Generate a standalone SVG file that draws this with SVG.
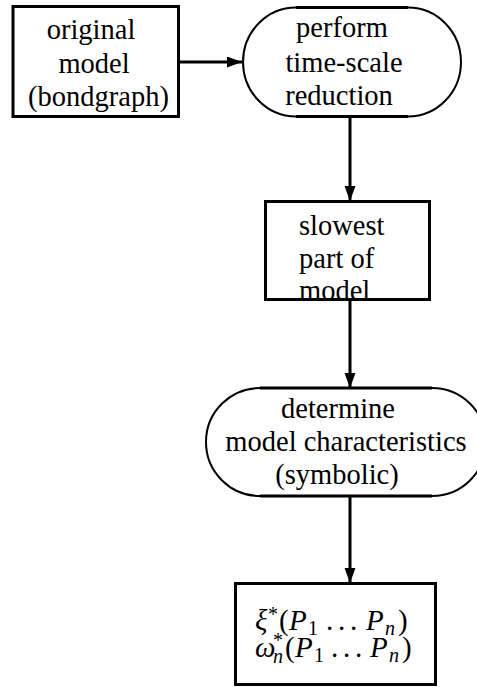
<svg xmlns="http://www.w3.org/2000/svg" width="477" height="687" viewBox="0 0 477 687">
  <style>
    .box { fill: #fff; stroke: #000; stroke-width: 3; }
    .flat { fill: none; stroke: #000; stroke-width: 3; }
    .end { fill: none; stroke: #000; stroke-width: 2; }
    .cap { font-family: 'Liberation Serif', serif; font-size: 28.5px; fill: #000; }
    .ctr { text-anchor: middle; }
    .math { font-family: 'Liberation Serif', serif; font-size: 29px; fill: #000; }
    .scr { font-size: 20px; }
    .it { font-style: italic; }
    .edge { stroke: #000; stroke-width: 3; fill: none; marker-end: url(#head); }
  </style>
  <defs>
    <marker id="head" markerUnits="userSpaceOnUse" markerWidth="16" markerHeight="12" refX="15" refY="5.5" orient="auto">
      <path d="M0,0 L15,5.5 L0,11 Z" fill="#000"/>
    </marker>
  </defs>
  <rect width="477" height="687" fill="#fff"/>

  <!-- connectors -->
  <g id="connectors">
    <line class="edge" x1="179" y1="62" x2="242" y2="62"/>
    <line class="edge" x1="350" y1="117" x2="350" y2="201"/>
    <line class="edge" x1="350" y1="301" x2="350" y2="388"/>
    <line class="edge" x1="350" y1="497" x2="350" y2="583"/>
  </g>

  <!-- original model -->
  <g id="n-original">
    <rect class="box" x="13" y="6.5" width="165.5" height="110"/>
    <text class="cap ctr" font-family="Liberation Serif" style="font-family: 'Liberation Serif', serif" x="91" y="39">original</text>
    <text class="cap ctr" font-family="Liberation Serif" style="font-family: 'Liberation Serif', serif" x="94" y="73">model</text>
    <text class="cap ctr" font-family="Liberation Serif" style="font-family: 'Liberation Serif', serif" x="98.5" y="106">(bondgraph)</text>
  </g>

  <!-- perform time-scale reduction -->
  <g id="n-reduction">
    <path d="M296,7.5 H408 M296,116.5 H408" class="flat"/>
    <path d="M296,7.5 A53,54.5 0 0 0 296,116.5 M408,7.5 A53,54.5 0 0 1 408,116.5" class="end"/>
    <text class="cap ctr" font-family="Liberation Serif" style="font-family: 'Liberation Serif', serif" x="342" y="37">perform</text>
    <text class="cap ctr" font-family="Liberation Serif" style="font-family: 'Liberation Serif', serif" x="344" y="72">time-scale</text>
    <text class="cap ctr" font-family="Liberation Serif" style="font-family: 'Liberation Serif', serif" x="339" y="105">reduction</text>
  </g>

  <!-- slowest part of model -->
  <g id="n-slowest">
    <rect class="box" x="265.5" y="201.5" width="164" height="98"/>
    <text class="cap" font-family="Liberation Serif" style="font-family: 'Liberation Serif', serif" x="299" y="235">slowest</text>
    <text class="cap" font-family="Liberation Serif" style="font-family: 'Liberation Serif', serif" x="299" y="268">part of</text>
    <text class="cap" font-family="Liberation Serif" style="font-family: 'Liberation Serif', serif" x="299" y="300">model</text>
  </g>

  <!-- determine model characteristics -->
  <g id="n-characteristics">
    <path d="M260,388 H432 M260,496 H432" class="flat"/>
    <path d="M260,388 A54,54 0 0 0 260,496 M432,388 A54,54 0 0 1 432,496" class="end"/>
    <text class="cap ctr" font-family="Liberation Serif" style="font-family: 'Liberation Serif', serif" x="338" y="418">determine</text>
    <text class="cap ctr" font-family="Liberation Serif" style="font-family: 'Liberation Serif', serif" x="346" y="451">model characteristics</text>
    <text class="cap ctr" font-family="Liberation Serif" style="font-family: 'Liberation Serif', serif" x="337" y="484">(symbolic)</text>
  </g>

  <!-- result: damping ratio and natural frequency as functions of the parameters -->
  <g id="n-result">
    <rect class="box" x="235.5" y="583.5" width="200" height="101"/>
    <!-- xi* (P1 ... Pn) -->
    <text class="math" style="font-family: 'Liberation Serif', serif" y="630"><tspan class="it" x="255">ξ</tspan><tspan class="scr" x="268" y="621">*</tspan><tspan x="279" y="630">(</tspan><tspan class="it" x="289">P</tspan><tspan class="scr" x="308" y="635">1</tspan><tspan x="326 338 350" y="630">...</tspan><tspan class="it" x="366">P</tspan><tspan class="scr it" x="385" y="635">n</tspan><tspan x="398" y="630">)</tspan></text>
    <!-- omega*_n (P1 ... Pn) -->
    <text class="math" style="font-family: 'Liberation Serif', serif" y="657"><tspan class="it" x="255">ω</tspan><tspan class="scr" x="273" y="647">*</tspan><tspan class="scr it" x="273" y="663">n</tspan><tspan x="285" y="657">(</tspan><tspan class="it" x="295">P</tspan><tspan class="scr" x="314" y="662">1</tspan><tspan x="331 343 355" y="657">...</tspan><tspan class="it" x="370">P</tspan><tspan class="scr it" x="389" y="662">n</tspan><tspan x="402" y="657">)</tspan></text>
  </g>
</svg>
